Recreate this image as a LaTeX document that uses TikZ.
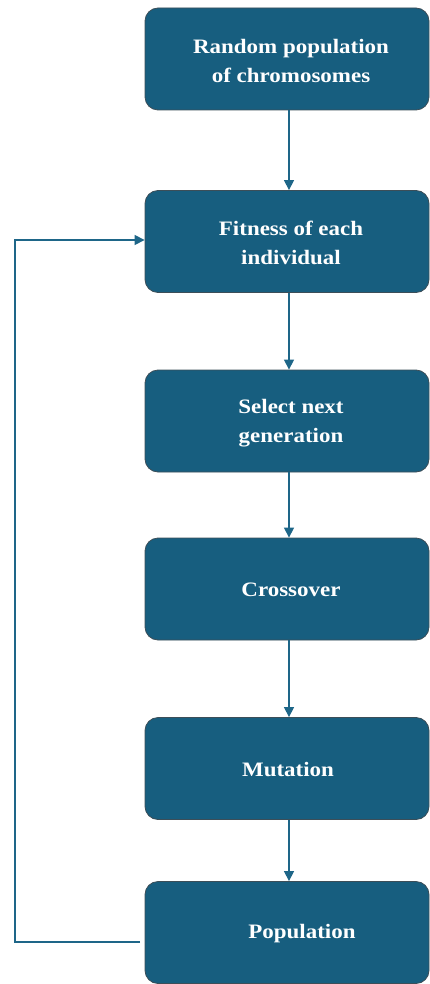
\documentclass[tikz,border=0pt]{standalone}
\usepackage{fontspec}
\setmainfont{Liberation Serif}[FakeStretch=1.12]
\usetikzlibrary{arrows.meta}
\definecolor{boxfill}{HTML}{175E7F}
\definecolor{boxline}{HTML}{3C4E58}
\definecolor{arr}{HTML}{1E6688}
\begin{document}
\begin{tikzpicture}[x=1pt,y=-1pt,
  stage/.style={draw=boxline, line width=0.8pt, fill=boxfill, rounded corners=13pt,
    minimum width=284pt, minimum height=102pt, text=white, align=center,
    font=\fontsize{20.5}{29.5}\selectfont\bfseries, inner sep=0pt},
  label/.style={text=white, align=center, font=\fontsize{20.5}{29.5}\selectfont\bfseries, inner sep=0pt},
  link/.style={draw=arr, line width=1.3pt, -{Triangle[width=10pt,length=10pt]}}]
\useasboundingbox (0,0) rectangle (430,984);
\node[stage] (n1) at (287,59) {};
\node[stage] (n2) at (287,241.5) {};
\node[stage] (n3) at (287,421) {};
\node[stage] (n4) at (287,589) {};
\node[stage] (n5) at (287,768.5) {};
\node[stage] (n6) at (287,932.5) {};
\node[label] (t1) at (291,61) {Random population\\of chromosomes};
\node[label] (t2) at (291,243) {Fitness of each\\individual};
\node[label] (t3) at (291,423) {Select next\\generation};
\node[label] (t4) at (291,590) {Crossover};
\node[label] (t5) at (288,770) {Mutation};
\node[label] (t6) at (302,934) {Population};
\draw[link] (n1.south -| 289,0) -- (n2.north -| 289,0);
\draw[link] (n2.south -| 289,0) -- (n3.north -| 289,0);
\draw[link] (n3.south -| 289,0) -- (n4.north -| 289,0);
\draw[link] (n4.south -| 289,0) -- (n5.north -| 289,0);
\draw[link] (n5.south -| 289,0) -- (n6.north -| 289,0);
\coordinate (c1) at (15,942);
\coordinate (c2) at (15,240);
\draw[link] (140,942) -- (c1) -- (c2) -- (n2.west |- c2);
\end{tikzpicture}
\end{document}
